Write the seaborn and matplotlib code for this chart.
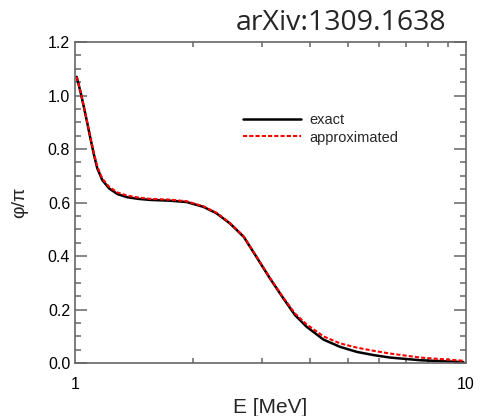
import matplotlib
matplotlib.use("Agg")
import matplotlib.pyplot as plt
from matplotlib.ticker import FixedLocator, NullFormatter, MultipleLocator, FormatStrFormatter
import seaborn as sns

# Energias (MeV) e fase phi/pi
energia = [1.010, 1.034, 1.054, 1.075, 1.097, 1.118, 1.140, 1.174, 1.222, 1.283,
           1.360, 1.450, 1.555, 1.750, 1.930, 2.130, 2.300, 2.490, 2.700, 2.910,
           3.150, 3.410, 3.650, 3.910, 4.320, 4.760, 5.260, 5.810, 6.390, 7.630,
           9.840]
exata = [1.070, 1.010, 0.955, 0.896, 0.834, 0.778, 0.728, 0.684, 0.653, 0.632,
         0.620, 0.614, 0.610, 0.607, 0.602, 0.584, 0.560, 0.522, 0.472, 0.397,
         0.317, 0.242, 0.180, 0.136, 0.088, 0.061, 0.042, 0.030, 0.021, 0.011,
         0.004]
aproximada = [1.070, 1.012, 0.958, 0.899, 0.838, 0.783, 0.734, 0.690, 0.659, 0.638,
              0.626, 0.619, 0.614, 0.611, 0.605, 0.586, 0.562, 0.524, 0.474, 0.399,
              0.319, 0.245, 0.186, 0.145, 0.100, 0.074, 0.058, 0.046, 0.036, 0.021,
              0.009]

sns.set_style("ticks")
plt.rcParams["font.family"] = ["Liberation Sans", "DejaVu Sans"]

fig = plt.figure(figsize=(4.81, 4.16), dpi=100)
ax = fig.add_axes([0.156, 0.127, 0.813, 0.772])

sns.lineplot(x=energia, y=exata, color="black", linewidth=1.8, label="exact", ax=ax)
sns.lineplot(x=energia, y=aproximada, color="red", linewidth=1.5, label="approximated",
             ax=ax, linestyle=(0, (2, 1)))

ax.set_xscale("log")
ax.set_xlim(1, 10)
ax.set_ylim(0, 1.2)
ax.xaxis.set_major_locator(FixedLocator([1, 10]))
ax.set_xticklabels(["1", "10"])
ax.xaxis.set_minor_locator(FixedLocator(range(2, 10)))
ax.xaxis.set_minor_formatter(NullFormatter())
ax.yaxis.set_major_locator(MultipleLocator(0.2))
ax.yaxis.set_minor_locator(MultipleLocator(0.05))
ax.yaxis.set_major_formatter(FormatStrFormatter("%.1f"))

cinza = "#666666"
for lado in ax.spines.values():
    lado.set_color(cinza)
    lado.set_linewidth(1.2)
ax.tick_params(which="both", direction="in", top=True, right=True, colors=cinza,
               labelcolor="black", labelsize=11.5)
ax.tick_params(axis="y", which="major", length=8.5, width=1.1)
ax.tick_params(axis="y", which="minor", length=4.5, width=1.1)
ax.tick_params(axis="x", which="major", length=0, pad=10)
ax.tick_params(axis="x", which="minor", length=3.5, width=1.1)

ax.set_xlabel("E [MeV]", fontsize=15, labelpad=4)
ax.set_ylabel("φ/π", fontsize=14, labelpad=14)

ax.legend(loc="upper left", bbox_to_anchor=(0.395, 0.82), frameon=False, fontsize=10.5,
          handlelength=4.0, handletextpad=0.6, labelspacing=0.25)

fig.text(0.71, 0.945, "arXiv:1309.1638", fontsize=20.5, ha="center", va="center",
         family=["Open Sans", "DejaVu Sans"])

fig.savefig("out.png", dpi=100)
plt.close()
